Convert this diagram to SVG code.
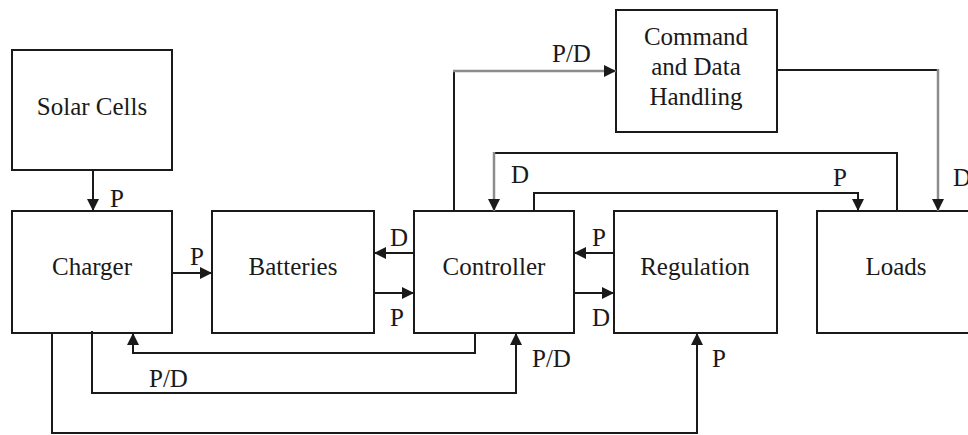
<svg xmlns="http://www.w3.org/2000/svg" width="968" height="435" viewBox="0 0 968 435">
  <style>
    .box { fill: #ffffff; stroke: #1a1a1a; stroke-width: 2; }
    .txt { font-family: 'Liberation Serif', 'DejaVu Serif', serif; font-size: 25px; fill: #1a1a1a; }
    .mid { text-anchor: middle; }
    .ln { fill: none; stroke: #1a1a1a; stroke-width: 2; }
    .gr { fill: none; stroke: #8c8c8c; stroke-width: 2.5; }
  </style>
  <defs>
    <marker id="ah" markerUnits="userSpaceOnUse" markerWidth="12" markerHeight="12" viewBox="0 0 11 11" refX="11" refY="5.5" orient="auto">
      <path d="M0,0 L11,5.5 L0,11 z" fill="#1a1a1a"/>
    </marker>
  </defs>
  <rect width="968" height="435" fill="#ffffff"/>

  <g id="solar">
    <rect class="box" x="12" y="50" width="160" height="120"/>
    <text class="txt mid" x="92" y="115" font-family="Liberation Serif, serif">Solar Cells</text>
  </g>
  <g id="charger">
    <rect class="box" x="12" y="211" width="160" height="122"/>
    <text class="txt mid" x="92" y="275">Charger</text>
  </g>
  <g id="batteries">
    <rect class="box" x="212" y="211" width="162" height="122"/>
    <text class="txt mid" x="293" y="275">Batteries</text>
  </g>
  <g id="controller">
    <rect class="box" x="414" y="211" width="160" height="122"/>
    <text class="txt mid" x="494" y="275">Controller</text>
  </g>
  <g id="regulation">
    <rect class="box" x="614" y="211" width="163" height="122"/>
    <text class="txt mid" x="695" y="275">Regulation</text>
  </g>
  <g id="loads">
    <rect class="box" x="817" y="211" width="160" height="122"/>
    <text class="txt mid" x="896" y="275">Loads</text>
  </g>
  <g id="cdh">
    <rect class="box" x="616" y="10" width="161" height="122"/>
    <text class="txt mid" x="696" y="45">Command</text>
    <text class="txt mid" x="696" y="75">and Data</text>
    <text class="txt mid" x="696" y="105">Handling</text>
  </g>

  <g id="connectors">
    <path class="ln" d="M93,170 V211" marker-end="url(#ah)"/>
    <path class="ln" d="M172,273 H212" marker-end="url(#ah)"/>
    <path class="ln" d="M414,253 H374" marker-end="url(#ah)"/>
    <path class="ln" d="M374,293 H414" marker-end="url(#ah)"/>
    <path class="ln" d="M614,253 H574" marker-end="url(#ah)"/>
    <path class="ln" d="M574,293 H614" marker-end="url(#ah)"/>
    <path class="ln" d="M454,211 V71"/>
    <path class="gr" d="M453,71 H616" marker-end="url(#ah)"/>
    <path class="ln" d="M777,70 H938"/>
    <path class="gr" d="M938,69 V211" marker-end="url(#ah)"/>
    <path class="ln" d="M897,211 V153 H494"/>
    <path class="gr" d="M494,152 V211" marker-end="url(#ah)"/>
    <path class="ln" d="M534,211 V193 H858 V211" marker-end="url(#ah)"/>
    <path class="ln" d="M475,333 V353 H133 V333" marker-end="url(#ah)"/>
    <path class="ln" d="M92,331 V393 H516 V333" marker-end="url(#ah)"/>
    <path class="ln" d="M52,333 V433 H697 V333" marker-end="url(#ah)"/>

    <text class="txt" x="110" y="207">P</text>
    <text class="txt" x="190" y="265">P</text>
    <text class="txt" x="390" y="246">D</text>
    <text class="txt" x="390" y="326">P</text>
    <text class="txt" x="592" y="246">P</text>
    <text class="txt" x="592" y="326">D</text>
    <text class="txt" x="552" y="62">P/D</text>
    <text class="txt" x="511" y="183">D</text>
    <text class="txt" x="833" y="186">P</text>
    <text class="txt" x="953" y="186">D</text>
    <text class="txt" x="149" y="387">P/D</text>
    <text class="txt" x="532" y="367">P/D</text>
    <text class="txt" x="712" y="367">P</text>
  </g>
</svg>
